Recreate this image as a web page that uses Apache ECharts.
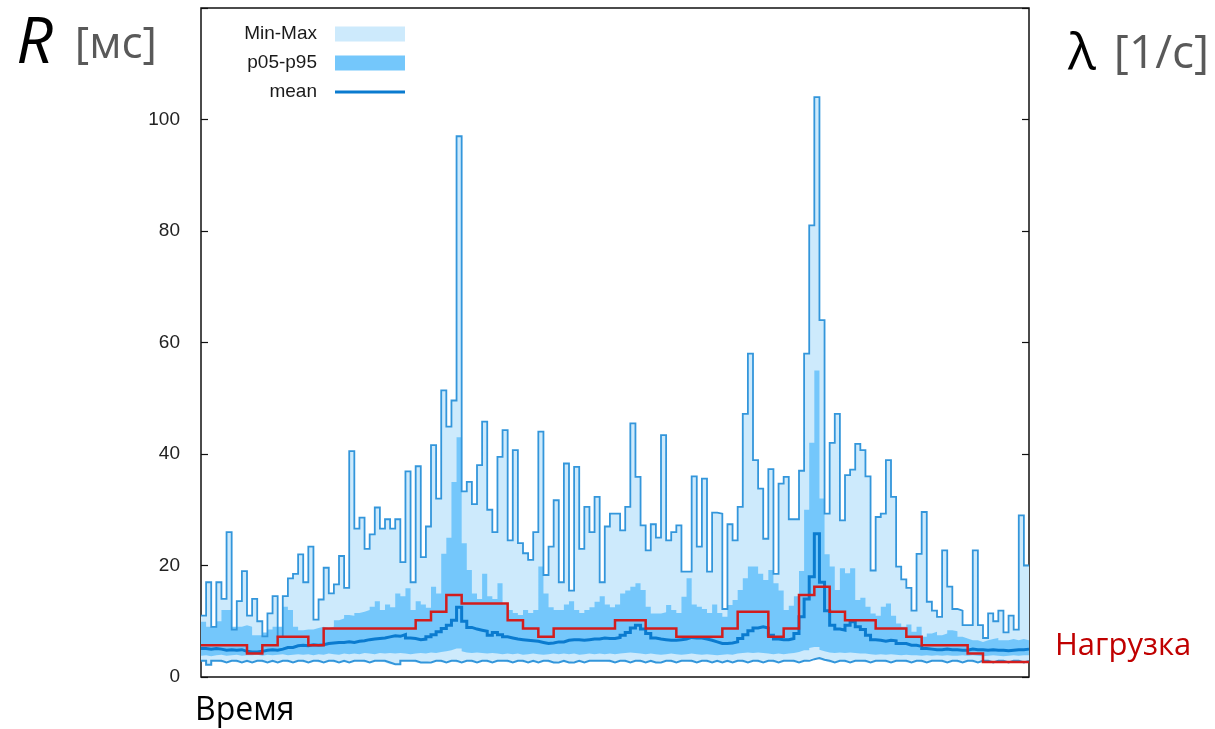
<!DOCTYPE html>
<html>
<head>
<meta charset="utf-8">
<script src="https://cdn.jsdelivr.net/npm/echarts@6/dist/echarts.min.js"></script>
<style>
  html, body { margin: 0; padding: 0; background: #ffffff; }
  #chart { width: 1215px; height: 729px; }
</style>
</head>
<body>
<div id="chart"></div>
<script>
// ---- data (response time R in ms, per time step) ----
const maxVals = [
  11, 17, 9, 17, 14, 26, 8.5, 13.6, 19, 11,
  14, 10, 7.3, 11.4, 14.5, 7.2, 14.5, 17.7, 18.5, 22,
  17, 23.4, 10.3, 13.9, 19.6, 15, 16.6, 21.7, 16, 40.5,
  26.6, 28.6, 23, 25.6, 30.4, 26.6, 28.3, 26.6, 28.3, 20.6,
  36.9, 17, 37.8, 21.5, 27, 41.6, 32, 51.4, 44.9, 49.6,
  97, 33.3, 35, 31, 38, 45.8, 30, 26, 39.5, 44.3,
  24.5, 40.7, 24, 22.2, 21, 26, 44, 18.3, 23.4, 31.7,
  17, 38.3, 15.5, 37.7, 23, 30.5, 26, 32.3, 17, 27,
  29.3, 29.3, 26.3, 30.5, 45.5, 35.9, 27.2, 22.7, 27.4, 25,
  43.4, 24.5, 26, 27.2, 18.9, 18.9, 36, 23.4, 35.6, 18.9,
  29.5, 29.3, 12.2, 27.4, 24.5, 30.5, 47.2, 58, 38.9, 33.8,
  24.8, 37.3, 18.5, 34.7, 35.9, 28.3, 28.3, 37, 58, 81,
  104, 64, 29.3, 42, 47.2, 28.1, 36.2, 37.2, 41.8, 40.7,
  36, 19.1, 28.7, 29.3, 38.9, 32.3, 19.8, 17.5, 16, 11.9,
  22.1, 29.6, 13.5, 11.9, 10.8, 22.7, 16.2, 12.2, 11.9, 9.3,
  9.3, 22.7, 9.3, 7, 11.4, 10, 11.9, 8, 11, 8.5,
  29, 20
];
const p95Vals = [
  9.9, 9, 9, 10, 12, 12, 9, 9, 9.3, 9,
  7.5, 7.5, 8, 8.5, 9, 9, 12.6, 12, 9, 8.4,
  8.5, 8.5, 8.8, 9, 8.8, 9, 10.2, 10.5, 11.1, 11,
  11.5, 11.7, 12, 12.6, 13.6, 12, 13, 12.5, 15, 14.5,
  15.9, 12, 13.6, 13, 12.4, 16.2, 15, 22.1, 25, 35,
  43, 24, 19.2, 15, 14, 18.5, 14.5, 14, 16.8, 13,
  12, 11.5, 11.1, 12, 11.5, 12, 19.8, 15, 12.5, 12,
  12, 13, 13.6, 12, 11.5, 12, 12.5, 13.5, 14.5, 13,
  12.5, 13, 15, 15.5, 16.2, 16.8, 15.6, 12.6, 11.4, 11.4,
  11.6, 12.9, 12, 11.5, 14.4, 17.7, 13, 12.6, 12.2, 11.5,
  13, 11.5, 10.8, 12.9, 13.8, 15.6, 17.7, 19.8, 19.8, 18.5,
  17.4, 19.2, 16.8, 15.5, 12, 12.8, 14.5, 19, 30, 42,
  55, 32, 22, 19.8, 15.6, 19.5, 18.6, 19.5, 13.8, 14.2,
  12.6, 11.4, 11, 12.6, 13.2, 11, 9.6, 9, 9.4, 8.1,
  9, 7.2, 7.8, 8.1, 7.5, 7.8, 8.4, 8.2, 7.2, 6.9,
  6.6, 6.6, 6.3, 6.6, 6.8, 7, 6.6, 6.6, 6.8, 6.6,
  6.8, 6.6
];
const meanVals = [
  5.1, 5.0, 5.1, 5.0, 4.8, 4.9, 4.8, 4.9, 4.6, 4.5,
  4.5, 4.6, 4.8, 4.9, 4.8, 5.0, 5.3, 5.3, 5.6, 5.7,
  5.6, 5.8, 5.7, 5.8, 6.0, 6.1, 6.2, 6.2, 6.3, 6.2,
  6.4, 6.5, 6.7, 6.8, 6.9, 7.0, 7.2, 7.4, 7.3, 7.6,
  7.0, 6.9, 6.7, 6.8, 7.2, 7.6, 8.1, 8.7, 9.3, 10.2,
  12.5, 10.0, 8.9, 8.6, 8.4, 8.2, 7.5, 8.0, 7.6, 7.2,
  7.0, 6.8, 6.7, 6.6, 6.5, 6.4, 6.2, 6.0, 6.1, 6.3,
  6.3, 6.6, 6.7, 6.7, 6.6, 6.7, 6.8, 6.8, 7.0, 6.9,
  6.9, 7.1, 7.5, 8.0, 8.8, 9.3, 8.6, 7.8, 7.0, 6.8,
  6.7, 6.6, 6.6, 6.7, 6.8, 7.1, 7.0, 7.0, 6.8, 6.6,
  6.3, 6.0, 6.0, 6.1, 6.3, 6.9, 7.6, 8.3, 8.8, 9.0,
  8.8, 7.5, 6.8, 6.7, 6.7, 6.9, 7.8, 10.8, 14, 18,
  25.7, 17, 11.9, 9.3, 8.6, 8.4, 9.3, 9.9, 9.0, 8.5,
  7.5, 6.7, 6.6, 6.4, 6.6, 6.5, 6.0, 6.0, 5.7, 5.7,
  5.5, 5.1, 5.0, 4.9, 4.9, 5.0, 4.9, 4.9, 4.8, 4.8,
  5.0, 4.9, 4.9, 4.8, 4.9, 4.8, 4.8, 4.7, 4.8, 4.9,
  4.9, 5.0
];
const p05Vals = [
  3.8, 3.9, 3.7, 3.9, 4.0, 3.8, 3.9, 4.0, 3.8, 3.9,
  3.9, 4.0, 3.8, 4.0, 3.9, 4.0, 4.1, 3.9, 4.0, 4.1,
  4.0, 4.1, 3.9, 4.1, 4.0, 4.2, 4.1, 4.0, 4.2, 4.1,
  4.2, 4.1, 4.3, 4.2, 4.1, 4.3, 4.2, 4.3, 4.2, 4.3,
  4.2, 4.1, 4.2, 4.3, 4.2, 4.4, 4.3, 4.5, 4.6, 4.8,
  5.1, 4.6, 4.4, 4.3, 4.4, 4.3, 4.2, 4.3, 4.2, 4.1,
  4.2, 4.1, 4.2, 4.0, 4.1, 4.2, 4.1, 4.0, 4.1, 4.2,
  4.1, 4.2, 4.1, 4.2, 4.0, 4.1, 4.2, 4.1, 4.2, 4.1,
  4.2, 4.1, 4.2, 4.3, 4.4, 4.3, 4.2, 4.1, 4.2, 4.1,
  4.0, 4.1, 4.2, 4.1, 4.0, 4.1, 4.2, 4.1, 4.0, 4.1,
  4.0, 3.9, 4.0, 4.1, 4.0, 4.2, 4.3, 4.4, 4.3, 4.4,
  4.3, 4.2, 4.1, 4.2, 4.1, 4.2, 4.3, 4.5, 4.8, 5.2,
  5.4, 4.9, 4.6, 4.4, 4.3, 4.4, 4.3, 4.4, 4.3, 4.2,
  4.2, 4.1, 4.0, 4.1, 4.0, 4.1, 4.0, 3.9, 4.0, 3.9,
  3.9, 3.8, 3.9, 3.8, 3.9, 3.8, 3.9, 3.8, 3.8, 3.9,
  3.8, 3.9, 3.8, 3.7, 3.8, 3.9, 3.8, 3.7, 3.8, 3.9,
  3.8, 3.9
];
const minVals = [
  2.9, 2.2, 2.9, 2.9, 2.6, 2.9, 2.9, 2.6, 2.9, 2.6,
  2.9, 2.9, 2.6, 2.9, 2.6, 2.9, 2.9, 2.6, 2.9, 2.9,
  2.6, 2.9, 2.9, 2.6, 2.9, 2.9, 2.6, 2.9, 2.6, 2.9,
  2.9, 2.9, 2.6, 2.9, 2.9, 2.9, 2.6, 2.3, 2.3, 2.9,
  2.9, 2.9, 2.6, 2.6, 2.6, 2.9, 2.9, 2.6, 2.9, 2.9,
  2.6, 2.9, 2.9, 2.6, 2.9, 2.9, 2.6, 2.9, 2.9, 2.9,
  2.6, 2.9, 2.9, 2.6, 2.9, 2.6, 2.9, 2.9, 2.6, 2.6,
  2.9, 2.6, 2.6, 2.9, 2.6, 2.9, 2.9, 2.9, 2.9, 2.9,
  2.6, 2.9, 2.9, 2.6, 2.9, 2.9, 2.6, 2.9, 2.6, 2.6,
  2.9, 2.9, 2.6, 2.9, 2.9, 2.9, 2.6, 2.9, 2.9, 2.6,
  2.9, 2.6, 2.9, 2.6, 2.9, 2.9, 2.6, 2.9, 2.9, 2.6,
  2.9, 2.9, 2.6, 2.9, 2.9, 2.9, 2.6, 2.9, 2.9, 3.2,
  3.4, 3.1, 2.9, 2.6, 2.9, 2.9, 2.6, 2.9, 2.9, 2.9,
  2.6, 2.9, 2.9, 2.9, 2.6, 2.9, 2.9, 2.9, 2.6, 2.9,
  2.9, 2.6, 2.9, 2.9, 2.9, 2.6, 2.9, 2.9, 2.6, 2.9,
  2.9, 2.6, 2.9, 2.9, 2.6, 2.9, 2.9, 2.6, 2.9, 2.9,
  2.6, 2.9
];
// load λ (relative units), one value per load interval
const loadVals = [
  3, 3, 3, 2, 3, 4, 4, 3, 5, 5, 5, 5, 5, 5, 6, 7, 9, 8, 8, 8,
  6, 5, 4, 5, 5, 5, 5, 6, 6, 5, 5, 4, 4, 4, 5, 7, 7, 4, 5, 9,
  10, 7, 6, 6, 5, 5, 4, 3, 3, 3, 2, 1, 1, 1
];
const stepsPerLoad = 3;
const yTicks = [0, 20, 40, 60, 80, 100, 120];
const legendNames = ['Min-Max', 'p05-p95', 'mean'];

// ---- helpers: step series on a category time axis (one extra closing point) ----
const N = maxVals.length;
const timeCats = Array.from({ length: N + 1 }, (_, i) => String(i));
function closeSteps(arr) { return arr.concat([arr[arr.length - 1]]); }
function diff(top, bottom) { return top.map((v, i) => +(v - bottom[i]).toFixed(3)); }
const loadPerStep = closeSteps(Array.from({ length: N }, (_, i) => loadVals[Math.floor(i / stepsPerLoad)]));

const C_LIGHT = '#cdeafc';
const C_MED = '#74c7fb';
const C_EDGE = '#3396db';
const C_MEAN = '#0a7bcf';
const C_RED = '#d21d1d';

const chart = echarts.init(document.getElementById('chart'), null, { renderer: 'canvas' });
const base = { type: 'line', step: 'end', symbol: 'none', showSymbol: false, silent: true, animation: false };
const hiddenLine = { width: 0, opacity: 0 };

chart.setOption({
  animation: false,
  backgroundColor: '#ffffff',
  grid: {
    left: 201, right: 186, top: 8, bottom: 52,
    show: true, borderColor: '#111', borderWidth: 1.5, backgroundColor: 'transparent'
  },
  legend: {
    orient: 'vertical',
    right: 805,
    top: 19,
    align: 'right',
    itemWidth: 70,
    itemHeight: 15,
    itemGap: 9,
    selectedMode: false,
    textStyle: { fontFamily: 'Liberation Sans', fontSize: 19, color: '#1a1a1a', lineHeight: 20, padding: [0, 13, 0, 0] },
    data: [
      { name: legendNames[0], icon: 'rect', itemStyle: { color: C_LIGHT, borderWidth: 0 } },
      { name: legendNames[1], icon: 'rect', itemStyle: { color: C_MED, borderWidth: 0 } },
      { name: legendNames[2], icon: 'path://M0,0L70,0L70,3L0,3Z', itemStyle: { color: C_MEAN, borderWidth: 0 } }
    ]
  },
  xAxis: {
    type: 'category', data: timeCats, boundaryGap: false,
    axisLine: { show: false }, axisTick: { show: false }, axisLabel: { show: false },
    splitLine: { show: false },
    name: 'Время', nameLocation: 'start', nameGap: 6,
    nameTextStyle: { align: 'left', verticalAlign: 'top', padding: [18, 0, 0, 0],
      fontFamily: 'Open Sans', fontSize: 32, color: '#000' }
  },
  yAxis: [
    {
      type: 'value', min: yTicks[0], max: yTicks[yTicks.length - 1], interval: yTicks[1] - yTicks[0],
      axisLine: { show: false },
      axisTick: { show: true, inside: true, length: 7, lineStyle: { color: '#111', width: 1.2 } },
      axisLabel: { margin: 21, fontFamily: 'Liberation Sans', fontSize: 19, color: '#222',
        formatter: v => (v === yTicks[yTicks.length - 1] ? '' : String(v)) },
      splitLine: { show: false },
      name: '{r|R}{u|[мс]}', nameLocation: 'end', nameGap: -37,
      nameTextStyle: {
        align: 'right', verticalAlign: 'middle', padding: [0, 44, 0, 0],
        rich: {
          r: { fontFamily: 'Open Sans', fontStyle: 'italic', fontSize: 64, color: '#000', padding: [0, 22, 0, 0] },
          u: { fontFamily: 'Open Sans', fontSize: 44, color: '#595959' }
        }
      }
    },
    {
      type: 'value', min: -0.8, max: 79.2, interval: 80 / 6, position: 'right',
      axisLine: { show: false },
      axisTick: { show: true, inside: true, length: 7, lineStyle: { color: '#111', width: 1.2 } },
      axisLabel: { show: false },
      splitLine: { show: false },
      name: '{l|λ}{u|[1/с]}', nameLocation: 'end', nameGap: -47,
      nameTextStyle: {
        align: 'left', verticalAlign: 'middle', padding: [0, 0, 0, 39],
        rich: {
          l: { fontFamily: 'Open Sans', fontSize: 52, color: '#000', padding: [0, 18, 0, 0] },
          u: { fontFamily: 'Open Sans', fontSize: 46, color: '#595959' }
        }
      }
    }
  ],
  series: [
    Object.assign({}, base, { name: 'minBase', stack: 'mm', data: closeSteps(minVals), lineStyle: hiddenLine }),
    Object.assign({}, base, { name: legendNames[0], stack: 'mm', data: closeSteps(diff(maxVals, minVals)), color: C_LIGHT,
      lineStyle: hiddenLine, areaStyle: { color: C_LIGHT, opacity: 1 } }),
    Object.assign({}, base, { name: 'p05Base', stack: 'pp', data: closeSteps(p05Vals), lineStyle: hiddenLine }),
    Object.assign({}, base, { name: legendNames[1], stack: 'pp', data: closeSteps(diff(p95Vals, p05Vals)), color: C_MED,
      lineStyle: hiddenLine, areaStyle: { color: C_MED, opacity: 1 } }),
    Object.assign({}, base, { name: 'maxEdge', data: closeSteps(maxVals), lineStyle: { color: C_EDGE, width: 1.8, join: 'miter' } }),
    Object.assign({}, base, { name: 'minEdge', data: closeSteps(minVals), lineStyle: { color: C_EDGE, width: 2, join: 'miter' } }),
    Object.assign({}, base, { name: legendNames[2], data: closeSteps(meanVals), color: C_MEAN,
      lineStyle: { color: C_MEAN, width: 3, join: 'miter' } }),
    Object.assign({}, base, { name: 'Нагрузка', yAxisIndex: 1, data: loadPerStep, color: C_RED,
      lineStyle: { color: C_RED, width: 2.5, join: 'miter' },
      endLabel: { show: true, formatter: 'Нагрузка', distance: 0, offset: [26, -16],
        fontFamily: 'Open Sans', fontSize: 31, color: '#c00000' } })
  ]
});
</script>
</body>
</html>
